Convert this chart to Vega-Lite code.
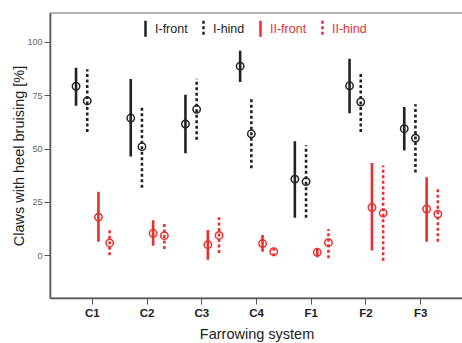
{
  "$schema": "https://vega.github.io/schema/vega-lite/v6.json",
  "autosize": {"type": "none"},
  "padding": {"left": 50, "top": 13, "right": 0, "bottom": 45},
  "width": 413,
  "height": 285,
  "background": "white",
  "config": {
    "view": {"stroke": "#9a9a9a", "strokeWidth": 1.5},
    "font": "Liberation Sans"
  },
  "data": {"values": [
    {"sys": "C1", "series": "I-front", "mean": 79.2, "lo": 70.0, "hi": 87.9},
    {"sys": "C2", "series": "I-front", "mean": 64.3, "lo": 46.3, "hi": 82.6},
    {"sys": "C3", "series": "I-front", "mean": 61.5, "lo": 47.8, "hi": 75.2},
    {"sys": "C4", "series": "I-front", "mean": 88.6, "lo": 81.2, "hi": 95.8},
    {"sys": "F1", "series": "I-front", "mean": 35.7, "lo": 17.6, "hi": 53.4},
    {"sys": "F2", "series": "I-front", "mean": 79.4, "lo": 66.5, "hi": 92.1},
    {"sys": "F3", "series": "I-front", "mean": 59.3, "lo": 49.1, "hi": 69.5},
    {"sys": "C1", "series": "I-hind", "mean": 72.3, "lo": 57.7, "hi": 87.1},
    {"sys": "C2", "series": "I-hind", "mean": 50.9, "lo": 31.6, "hi": 70.3},
    {"sys": "C3", "series": "I-hind", "mean": 68.4, "lo": 54.1, "hi": 82.7},
    {"sys": "C4", "series": "I-hind", "mean": 56.9, "lo": 40.8, "hi": 73.1},
    {"sys": "F1", "series": "I-hind", "mean": 34.5, "lo": 17.6, "hi": 51.5},
    {"sys": "F2", "series": "I-hind", "mean": 71.8, "lo": 57.7, "hi": 85.8},
    {"sys": "F3", "series": "I-hind", "mean": 54.9, "lo": 38.8, "hi": 70.7},
    {"sys": "C1", "series": "II-front", "mean": 17.9, "lo": 6.3, "hi": 29.8},
    {"sys": "C2", "series": "II-front", "mean": 10.3, "lo": 4.5, "hi": 16.4},
    {"sys": "C3", "series": "II-front", "mean": 5.0, "lo": -2.1, "hi": 11.9},
    {"sys": "C4", "series": "II-front", "mean": 5.5, "lo": 1.7, "hi": 9.5},
    {"sys": "F1", "series": "II-front", "mean": 1.4, "lo": -0.9, "hi": 3.3},
    {"sys": "F2", "series": "II-front", "mean": 22.4, "lo": 2.3, "hi": 43.2},
    {"sys": "F3", "series": "II-front", "mean": 21.7, "lo": 6.4, "hi": 36.6},
    {"sys": "C1", "series": "II-hind", "mean": 5.8, "lo": 0.0, "hi": 11.7},
    {"sys": "C2", "series": "II-hind", "mean": 9.2, "lo": 3.0, "hi": 15.4},
    {"sys": "C3", "series": "II-hind", "mean": 9.3, "lo": 1.1, "hi": 17.8},
    {"sys": "C4", "series": "II-hind", "mean": 1.7, "lo": -0.5, "hi": 3.0},
    {"sys": "F1", "series": "II-hind", "mean": 5.9, "lo": -1.4, "hi": 12.3},
    {"sys": "F2", "series": "II-hind", "mean": 19.8, "lo": -2.5, "hi": 42.1},
    {"sys": "F3", "series": "II-hind", "mean": 19.3, "lo": 6.4, "hi": 31.8}
  ]},
  "encoding": {
    "x": {
      "field": "sys", "type": "nominal", "sort": null,
      "scale": {"type": "band", "paddingInner": 0, "paddingOuter": 0.275},
      "axis": {
        "title": "Farrowing system", "titleFontSize": 14.5, "titleFontWeight": "normal",
        "titleColor": "#222", "titlePadding": 9,
        "labelAngle": 0, "labelFontSize": 11.5, "labelFontWeight": "bold", "labelColor": "#222",
        "labelPadding": 3, "tickSize": 6, "tickColor": "#555", "domainColor": "#555", "domainWidth": 1.5
      }
    },
    "xOffset": {
      "field": "series", "type": "nominal",
      "sort": ["I-front", "I-hind", "II-front", "II-hind"],
      "scale": {"type": "point", "padding": 0, "range": [11, 44.6]}
    },
    "color": {
      "field": "series", "type": "nominal",
      "sort": ["I-front", "I-hind", "II-front", "II-hind"],
      "scale": {"domain": ["I-front", "I-hind", "II-front", "II-hind"], "range": ["#222222", "#222222", "#eb2f2f", "#eb2f2f"]},
      "legend": {
        "title": null, "orient": "none", "direction": "horizontal", "columns": 4,
        "legendX": 86, "legendY": 6, "padding": 0,
        "symbolType": "M0,-1L0,1", "symbolSize": 256, "symbolStrokeWidth": 2.5,
        "labelFontSize": 12.5, "labelOffset": 0, "columnPadding": 6,
        "encode": {"labels": {"update": {"fill": {"signal": "indexof(datum.value, 'II') === 0 ? '#eb2f2f' : '#222222'"}}}}
      }
    }
  },
  "layer": [
    {
      "mark": {"type": "rule", "strokeWidth": 2.6},
      "encoding": {
        "y": {
          "field": "lo", "type": "quantitative",
          "scale": {"domain": [-20, 113.5], "nice": false, "zero": false},
          "axis": {
            "title": "Claws with heel bruising [%]", "titleFontSize": 14.5, "titleFontWeight": "normal",
            "titleColor": "#222", "titlePadding": 0,
            "values": [0, 25, 50, 75, 100], "grid": false,
            "labelFontSize": 9, "labelColor": "#666", "labelPadding": 2,
            "tickSize": 6, "tickColor": "#555", "domainColor": "#555", "domainWidth": 1.5
          }
        },
        "y2": {"field": "hi"},
        "strokeDash": {
          "field": "series", "type": "nominal",
          "sort": ["I-front", "I-hind", "II-front", "II-hind"],
          "scale": {"domain": ["I-front", "I-hind", "II-front", "II-hind"], "range": [[1, 0], [3, 2.5], [1, 0], [3, 2.5]]}
        }
      }
    },
    {
      "mark": {"type": "point", "shape": "circle", "filled": false, "size": 55, "strokeWidth": 1.5, "opacity": 1},
      "encoding": {
        "y": {"field": "mean", "type": "quantitative"}
      }
    }
  ]
}
